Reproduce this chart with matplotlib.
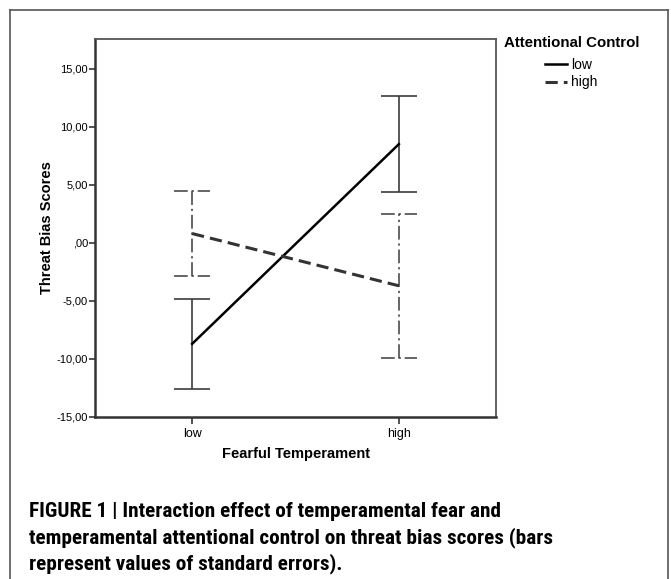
import matplotlib
matplotlib.use("Agg")
import matplotlib.pyplot as plt
from matplotlib import font_manager
from matplotlib.lines import Line2D
from matplotlib.ticker import FuncFormatter

plt.rcParams['font.family'] = ['Liberation Sans', 'DejaVu Sans']

# data
groups = ['low', 'high']                 # Fearful Temperament
low_ac_mean = [-8.7, 8.5]                # Attentional Control = low
low_ac_se = [3.9, 4.15]
high_ac_mean = [0.8, -3.7]               # Attentional Control = high
high_ac_se = [3.65, 6.2]
y_ticks = [-15, -10, -5, 0, 5, 10, 15]

caption_lines = ["FIGURE 1 | Interaction effect of temperamental fear and",
                 "temperamental attentional control on threat bias scores (bars",
                 "represent values of standard errors)."]

W, H = 671, 579
fig = plt.figure(figsize=(W / 100, H / 100), dpi=100)

def fx(px):
    return px / W

def fy(py):
    return 1 - py / H

ax = fig.add_axes([fx(95), fy(417), fx(496) - fx(95), fy(38.5) - fy(417)])
x = list(range(len(groups)))
cap = 0.088

# error bars, drawn by hand so the dash-dot style also applies to the caps
eb_col = '#3c3c3c'
dashdot = (0, (9, 2.5, 1.5, 2.5))
for xi, m, s in zip(x, low_ac_mean, low_ac_se):
    ax.vlines(xi, m - s, m + s, color=eb_col, lw=1.2)
    ax.hlines([m - s, m + s], xi - cap, xi + cap, color=eb_col, lw=1.2)
for xi, m, s in zip(x, high_ac_mean, high_ac_se):
    ax.vlines(xi, m - s, m + s, color=eb_col, lw=1.1, linestyles=[dashdot])
    ax.hlines([m - s, m + s], xi - cap, xi + cap, color=eb_col, lw=1.1, linestyles=[dashdot])

ax.plot(x, low_ac_mean, color='black', lw=1.8, label='low')
ax.plot(x, high_ac_mean, color='#333333', lw=2.2, dashes=(4, 2), label='high')

ax.set_xlim(-0.47, 1.47)
ax.set_ylim(-15, 17.6)
ax.set_xticks(x)
ax.set_xticklabels(groups, fontsize=9)
ax.set_yticks(y_ticks)

def spss_fmt(v, pos):
    s = f"{v:.2f}".replace('.', ',')
    return ',00' if v == 0 else s

ax.yaxis.set_major_formatter(FuncFormatter(spss_fmt))
ax.tick_params(axis='y', labelsize=8, length=4, width=1.2, color='#333333', pad=1)
ax.tick_params(axis='x', length=5, width=1.2, color='#333333', pad=3)

for side in ['left', 'bottom']:
    ax.spines[side].set_linewidth(1.8)
    ax.spines[side].set_color('#333333')
for side in ['top', 'right']:
    ax.spines[side].set_linewidth(1.3)
    ax.spines[side].set_color('#555555')

ax.set_ylabel('Threat Bias Scores', fontsize=10.5, fontweight='bold', labelpad=2)
ax.set_xlabel('Fearful Temperament', fontsize=10.5, fontweight='bold', labelpad=5)

# legend to the right of the plot
fig.text(fx(504), fy(43), 'Attentional Control', fontsize=10.8, fontweight='bold', va='center')
leg = ax.legend(loc='upper left', bbox_to_anchor=(fx(545), fy(58)), bbox_transform=fig.transFigure,
                frameon=False, fontsize=10, handlelength=1.6, handletextpad=0.3,
                labelspacing=0.25, borderpad=0, borderaxespad=0)

# outer frame of the figure panel
fcol = '#555555'
fig.add_artist(Line2D([fx(10), fx(10)], [fy(10), 0], color=fcol, lw=1.2))
fig.add_artist(Line2D([fx(10), fx(668)], [fy(10), fy(10)], color=fcol, lw=1.2))
fig.add_artist(Line2D([fx(668), fx(668)], [fy(10), 0], color=fcol, lw=1.2))

# caption: prefer a condensed bold face, then fit it to the reference width
installed = {f.name for f in font_manager.fontManager.ttflist}
cap_font = 'Liberation Sans'
for name in ['Liberation Sans Narrow', 'Roboto Condensed', 'Noto Sans Condensed',
             'Open Sans Condensed', 'DejaVu Sans Condensed']:
    if name in installed:
        cap_font = name
        break

cap_texts = []
for i, line in enumerate(caption_lines):
    t = fig.text(fx(29), fy(517 + 26.3 * i), line, fontsize=14, fontweight='bold',
                 family=cap_font, va='baseline')
    cap_texts.append(t)

renderer = fig.canvas.get_renderer()
w = cap_texts[1].get_window_extent(renderer).width
target = 534.0
size = min(15.3, 14 * target / w)
for t in cap_texts:
    t.set_fontsize(size)

fig.savefig('out.png', dpi=100)
